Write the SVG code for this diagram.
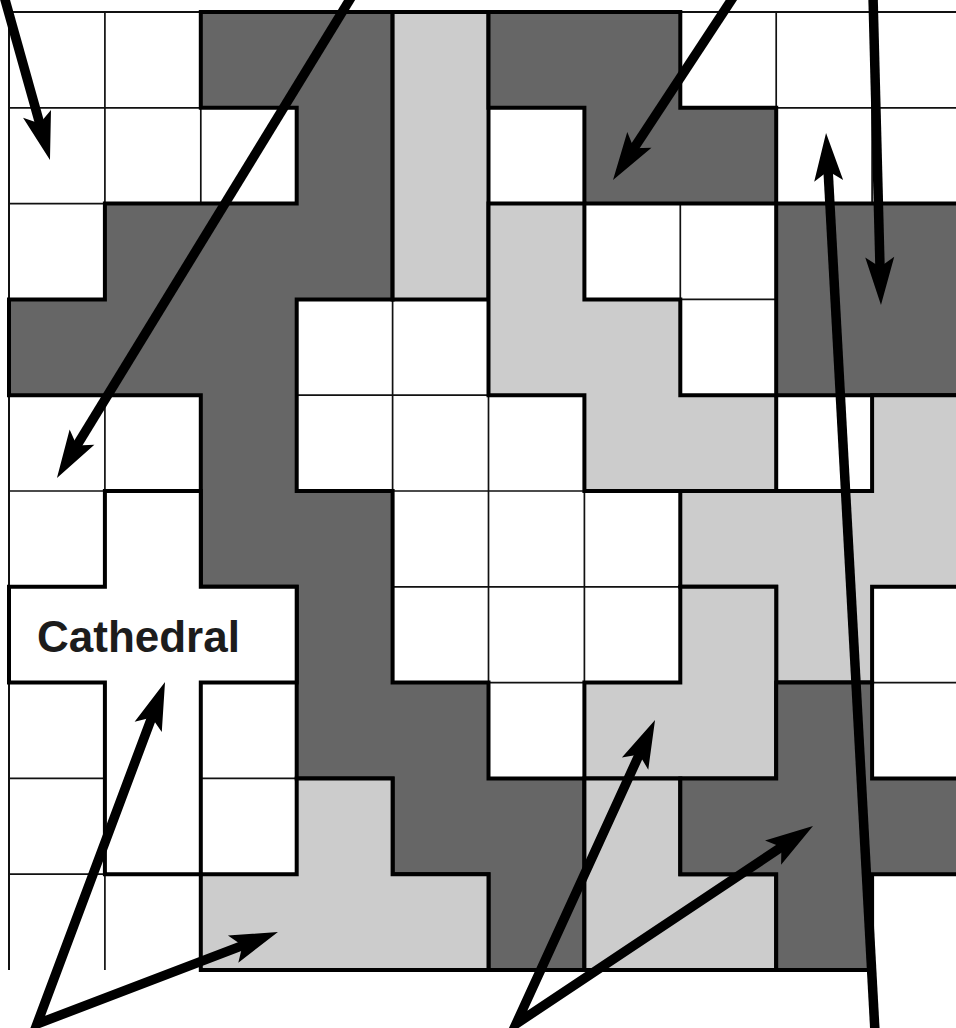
<svg xmlns="http://www.w3.org/2000/svg" width="956" height="1028" viewBox="0 0 956 1028">
<style>
.thin{fill:none;stroke:#111;stroke-width:1.7}
.border{fill:none;stroke:#111;stroke-width:2}
.dark{fill:#666;stroke:#000;stroke-width:4;stroke-linejoin:miter}
.light{fill:#ccc;stroke:#000;stroke-width:4;stroke-linejoin:miter}
.white{fill:#fff;stroke:#000;stroke-width:4;stroke-linejoin:miter}
.label{font-family:"Liberation Sans",Arial,sans-serif;font-weight:bold;font-size:44px;fill:#1c1c1c}
.arrow{fill:none;stroke:#000;stroke-width:9.5;stroke-linejoin:miter;stroke-miterlimit:10;marker-end:url(#ah)}
</style>
<defs>
<marker id="ah" viewBox="-10 -17 54 34" markerWidth="54" markerHeight="34" refX="6" refY="0" orient="auto-start-reverse" markerUnits="userSpaceOnUse" overflow="visible">
<path d="M40,0 L-8,-14.5 L2,0 L-8,14.5 Z" fill="#000"/>
</marker>
</defs>
<rect x="0" y="0" width="956" height="1028" fill="#fff"/>
<g id="house-grid">
<path class="thin" d="M104.9,12V970M200.8,12V970M296.7,12V970M392.6,12V970M488.5,12V970M584.4,12V970M680.3,12V970M776.2,12V970M872.1,12V970M9,107.8H956M9,203.6H956M9,299.4H956M9,395.2H956M9,491H956M9,586.8H956M9,682.6H956M9,778.4H956M9,874.2H956"/>
<path class="border" d="M9,970V12H956"/>
</g>
<g id="dark-road">
<path class="dark" d="M200.8,12H392.6V299.4H296.7V491H392.6V682.6H488.5V778.4H584.4V970H488.5V874.2H392.6V778.4H296.7V586.8H200.8V395.2H9V299.4H104.9V203.6H296.7V107.8H200.8Z"/>
</g>
<g id="light-bar">
<path class="light" d="M392.6,12H488.5V299.4H392.6Z"/>
</g>
<g id="dark-top">
<path class="dark" d="M488.5,12H680.3V107.8H776.2V203.6H584.4V107.8H488.5Z"/>
</g>
<g id="light-centre">
<path class="light" d="M488.5,203.6H584.4V299.4H680.3V395.2H776.2V491H584.4V395.2H488.5Z"/>
</g>
<g id="dark-right">
<path class="dark" d="M776.2,203.6H968V395.2H776.2Z"/>
</g>
<g id="light-right">
<path class="light" d="M872.1,395.2H968V586.8H872.1V682.6H776.2V586.8H680.3V491H872.1Z"/>
</g>
<g id="light-l-upper">
<path class="light" d="M680.3,586.8H776.2V778.4H584.4V682.6H680.3Z"/>
</g>
<g id="light-l-lower">
<path class="light" d="M584.4,778.4H680.3V874.2H776.2V970H584.4Z"/>
</g>
<g id="dark-cross">
<path class="dark" d="M776.2,682.6H872.1V778.4H968V874.2H872.1V970H776.2V874.2H680.3V778.4H776.2Z"/>
</g>
<g id="light-bottom">
<path class="light" d="M296.7,778.4H392.6V874.2H488.5V970H200.8V874.2H296.7Z"/>
</g>
<g id="cathedral">
<path class="white" d="M104.9,491H200.8V586.8H296.7V682.6H200.8V874.2H104.9V682.6H9V586.8H104.9Z"/>
<text class="label" x="37" y="652">Cathedral</text>
</g>
<g id="connectors">
<path class="arrow" d="M4,-4L40.8,127.3"/>
<path class="arrow" d="M352,-4L74.7,449"/>
<path class="arrow" d="M734,-4L631.7,151.6"/>
<path class="arrow" d="M873,-4L880.1,271"/>
<path class="arrow" d="M875,1032L827.9,166.9"/>
<path class="arrow" style="marker-start:url(#ah)" d="M153.1,713.8L37,1024L246.2,944.1"/>
<path class="arrow" style="marker-start:url(#ah)" d="M640.9,750.9L516,1024L784.7,844.9"/>
</g>
</svg>
